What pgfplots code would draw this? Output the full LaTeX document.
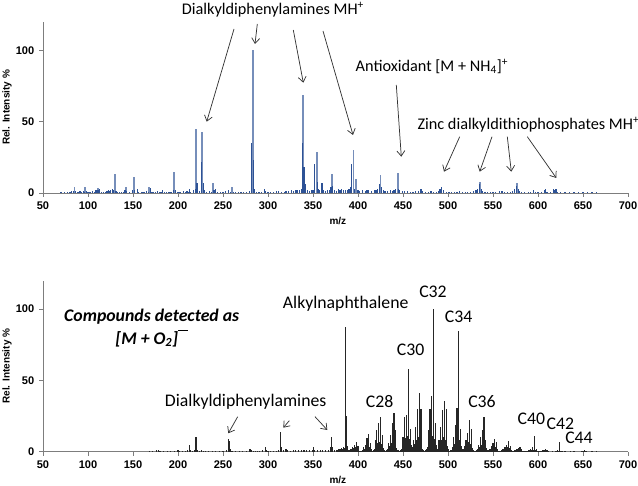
\documentclass[border=0pt]{standalone}
\usepackage{fontspec}
\setmainfont{Carlito}
\newfontfamily\arialf{Liberation Sans}
\usepackage{pgfplots}
\pgfplotsset{compat=1.18}
\usepackage{pgfplotstable}
\usetikzlibrary{arrows.meta}
\definecolor{specdark}{RGB}{45,82,150}
\definecolor{speclight}{RGB}{118,142,186}
\definecolor{axgray}{RGB}{125,125,125}

\pgfplotstableread{
mz int
85 4
97 4
111 3.5
130 13
142 4
151 11
168 4
196 15
220 45
227 43
239 7
260 4
283 100
339 69
354 29
371 13
395 30
398 10
425 12.6
444 14
536 8
577 7
}\toplight

\pgfplotstableread{
mz int
70 0.5
74 0.4
77 0.6
80 1
82 1.5
84 1.2
86 1.5
88 0.8
90 0.6
91 1.2
93 0.7
95 1.5
96 1
98 1.5
100 0.6
101 1
103 0.7
105 1.5
107 1
108 2
110 2
112 2
113 2.5
115 1
117 0.8
119 1
121 1.5
123 2
124 1.5
125 2
127 2.5
128 2
131 1.5
133 1
135 1
137 0.8
139 1
141 2
143 1.5
146 1
149 2
152 2
155 2.5
156 1
159 0.8
161 0.7
163 1
165 1.5
167 1
169 3.5
171 1
173 1
175 0.8
177 1.5
179 0.8
181 1
183 2
185 1
187 0.7
189 1
191 1
193 1
195 2
197 2
199 1
201 0.7
203 1
206 1.5
208 1
210 1.5
212 1
213 3
214 1
217 2
219 3
221 7
222 2
224 1.5
226 22
228 7
229 2
232 1
235 1.5
237 0.8
240 2
242 2.5
244 1
247 1
250 1
253 1.5
256 2
258 1
262 1
264 1
267 0.8
270 1
273 1
276 1
279 1.5
282 35
284 23
285 3
287 1
290 1
293 1
296 2.5
297 1.5
300 1
303 1
306 1
309 1.5
312 1.5
315 1
318 1
320 1.5
323 1.5
326 2
328 1.5
331 2
333 2
335 2
337 3
338 35
340 18
341 5
342 6
344 2
346 1.5
348 2
350 2
352 20
355 8
356 3
357 2
359 1.5
360 7
362 2
364 1.5
366 2
368 2
370 4
372 5
374 2
376 1.5
378 3
380 2
382 2.5
384 2
386 2
388 2
390 2.5
392 4
393 20
396 3
399 2
400 2
402 1.5
405 2
408 1.5
410 2
412 2
415 1.5
418 2
420 2
422 3
424 6
426 4
428 2
430 1.5
433 1.5
436 2
438 1.5
440 2
442 3
445 3
446 2
449 1.5
452 1.5
455 1.5
458 1
461 1
464 1.5
467 1.5
469 2
470 2.5
472 1.5
475 1
478 1
481 1.5
484 1
487 1
490 1.5
491 3
493 4
495 2
498 1
501 1
504 1
507 1
510 1
513 1.5
516 1
519 1
522 1
525 1
528 1.5
531 2
533 3
535 6
537 3
538 1.5
541 1
544 1
547 1
550 1
553 1
557 1.5
560 1.5
563 1
566 1
569 1
572 1.5
574 3
576 5
578 3
579 1.5
582 1
585 1
589 1
592 1
595 2
597 1
600 1
604 1
607 2
608 2.5
610 1
614 1
617 3
618 2
620 3
621 1
625 1
630 1
635 0.8
640 1
645 0.7
650 0.8
655 0.6
660 0.7
665 0.5
}\topdark

\pgfplotstableread{
mz int
168 0.5
172 0.4
176 1
178 1
180 0.8
184 0.5
188 0.4
192 0.5
196 0.6
200 1
202 0.8
205 0.6
208 0.7
211 1
213 5
214 1.5
216 0.8
218 1.5
220 10.3
221 2.5
222 1
224 0.8
226 1
228 0.6
231 0.5
234 0.6
238 0.5
242 0.7
246 0.6
250 0.8
254 1
256 9
257 7.5
258 2
260 0.8
264 0.6
268 0.5
272 0.7
276 0.8
279 1.5
280 2
282 1
284 0.8
286 0.7
288 0.6
291 0.8
294 1
297 3
298 1.5
300 0.8
303 0.6
306 0.7
309 0.8
312 1.5
314 13.6
315 3
317 1.5
320 2
322 1
325 0.8
328 1
331 1
334 1.2
337 1.5
340 1
343 1
346 1.2
349 1.5
351 3
352 1.5
355 1
358 1
361 1.2
364 1.5
367 1.5
369 3
371 10.3
372 3
374 1.5
376 1
377 1
378 2
379 0.8
380 2
381 1.4
382 2.5
383 2.1
384 3
385 2.5
386 87.6
387 25
388 4
389 1
390 0.5
391 0.9
392 2
393 1.7
394 3
395 2.5
396 5
397 3
398 7
399 2.4
400 4
401 1.2
402 0.6
403 0.4
404 0.6
405 1.2
406 3
407 2.2
408 5
409 3.4
410 9.5
411 4
412 12.5
413 3.2
414 6
415 1.6
416 0.8
417 1
418 2.1
419 8
420 3.9
421 15
422 6
423 20
424 7
425 24.5
426 5.6
427 12
428 2.8
429 1.4
430 0.8
431 0.8
432 1
433 2.1
434 6
435 3.9
436 12
437 6
438 20
439 7
440 27
441 5.6
442 15
443 2.8
444 1.4
445 1
446 0.8
447 1
448 1.6
449 3.3
450 10
451 6
452 24.5
453 9.4
454 25.7
455 11
456 57.7
457 8.8
458 16
459 4.4
460 2.2
461 3
462 8
463 5.5
464 17.5
465 8.5
466 30
467 10
468 41
469 8
470 30
471 4
472 2
473 1
474 0.8
475 1
476 1.6
477 3.3
478 15
479 6
480 29.7
481 9.4
482 39
483 11
484 100
485 8.8
486 20
487 4.4
488 2.2
489 3
490 8
491 5.5
492 17.5
493 8.5
494 29
495 10
496 35.7
497 8
498 29.7
499 4
500 2
501 1
502 0.8
503 1
504 1.5
505 3
506 10
507 5.5
508 18.7
509 8.5
510 30.8
511 10
512 85
513 8
514 15.6
515 4
516 2
517 2.1
518 4
519 3.9
520 8
521 6
522 12.8
523 7
524 22
525 5.6
526 16
527 2.8
528 1.4
529 0.8
530 0.6
531 0.8
532 0.9
533 1.8
534 5
535 3.3
536 10.5
537 5
538 15
539 6
540 24.5
541 4.8
542 8
543 2.4
544 1.2
545 1.2
546 2
547 2.2
548 4
549 3.4
550 6
551 4
552 8.7
553 3.2
554 7
555 1.6
556 0.8
557 0.5
558 0.4
559 0.5
560 1
561 2
562 2
563 3
564 3
565 5
566 3.5
567 7.5
568 2.8
569 4
570 1.4
571 0.7
572 0.3
573 0.6
574 1
575 1.1
576 2
577 1.7
578 2.5
579 2
580 3.5
581 1.6
582 2
583 0.8
584 0.4
585 0.3
586 0.2
587 0.3
588 0.3
589 0.5
590 1
591 0.8
592 2
593 1.3
594 3
595 1.5
596 11
597 1.2
598 2
599 0.6
600 0.3
602 0.3
603 0.5
604 0.8
605 1
606 1.5
607 1.2
608 2
609 1.5
610 1.5
611 0.6
612 0.3
616 0.2
620 0.3
621 0.5
622 1.5
623 0.7
624 6.8
625 0.6
626 0.5
627 0.3
630 0.2
636 0.3
640 0.2
648 0.2
650 0.5
651 0.8
652 1.5
653 0.5
654 0.2
660 0.2
665 0.2
}\bottomdata

\pgfplotsset{
  specaxis/.style={
    scale only axis,
    width=438.75pt, height=128.25pt,
    anchor=south west,
    xmin=50, xmax=700, ymin=0, ymax=120,
    xtick={50,100,...,700}, ytick={0,50,100},
    axis x line=bottom, axis y line=left,
    axis line style={-, axgray, line width=0.6pt},
    tick style={axgray, line width=0.5pt},
    tick align=outside, major tick length=3pt,
    /pgf/number format/assume math mode=true,
    ticklabel style={font=\arialf\bfseries\fontsize{8.3}{9}\selectfont, text=black},
    xlabel={m/z}, ylabel={Rel. Intensity \%},
    label style={font=\arialf\bfseries\fontsize{7.5}{9}\selectfont},
    xlabel style={at={(axis description cs:0.504,0)}, anchor=center, yshift=-21pt},
    ylabel style={at={(axis description cs:-0.0615,0.5)}, anchor=center, rotate=0},
    clip=false,
  }
}

\begin{document}
\begin{tikzpicture}
\useasboundingbox (0,0) rectangle (478.5pt,363.75pt);

\begin{axis}[specaxis, at={(32.25pt,219pt)}]
  \addplot[ycomb, mark=none, color=speclight, line width=1.4pt] table[x=mz,y=int] {\toplight};
  \addplot[ycomb, mark=none, color=specdark, line width=0.9pt] table[x=mz,y=int] {\topdark};
\end{axis}

\begin{axis}[specaxis, at={(32.25pt,25pt)}]
  \addplot[ycomb, mark=none, color=black!85, line width=0.8pt] table[x=mz,y=int] {\bottomdata};
\end{axis}

\begin{scope}[x=0.75pt, y=-0.75pt, yshift=363.75pt,
  arr/.style={-{Straight Barb[length=4pt,width=6pt]}, line width=0.55pt, black!80}]
  % top annotations
  \node[font=\fontsize{12.2}{14}\selectfont] at (273,10) {Dialkyldiphenylamines MH\textsuperscript{+}};
  \draw[arr] (234,29) -- (206.7,121.7);
  \draw[arr] (257.3,24) -- (255,44);
  \draw[arr] (293.3,30) -- (303.3,82.7);
  \draw[arr] (323,31) -- (353,135);
  \node[font=\fontsize{12.2}{14}\selectfont] at (432,66.7) {Antioxidant [M + NH\textsubscript{4}]\textsuperscript{+}};
  \draw[arr] (396.3,85) -- (401.3,156.7);
  \node[font=\fontsize{12.2}{14}\selectfont] at (528.5,125) {Zinc dialkyldithiophosphates MH\textsuperscript{+}};
  \draw[arr] (459.7,136.7) -- (444,171.7);
  \draw[arr] (492,136.7) -- (479.7,171.7);
  \draw[arr] (507.3,136.7) -- (511.3,171.7);
  \draw[arr] (527.3,136.7) -- (556.3,178);
  % bottom annotations
  \node[font=\fontsize{13.3}{16}\selectfont\bfseries\itshape] at (151.7,316.7) {Compounds detected as};
  \node[font=\fontsize{13.3}{16}\selectfont\bfseries\itshape] at (151.7,338.3) {[M + O\textsubscript{2}]\raisebox{0.72em}{\rule{0.55em}{0.09em}}};
  \node[font=\fontsize{13.3}{16}\selectfont] at (345.7,303.3) {Alkylnaphthalene};
  \node[font=\fontsize{13.3}{16}\selectfont] at (245.7,401.7) {Dialkyldiphenylamines};
  \draw[arr] (237.7,416.7) -- (228.3,433.3);
  \draw[arr] (289.3,420.7) -- (283.3,427.7);
  \draw[arr] (315,416.7) -- (327.3,430);
  \node[font=\fontsize{13.3}{16}\selectfont] at (433,291.7) {C32};
  \node[font=\fontsize{13.3}{16}\selectfont] at (458.7,316.7) {C34};
  \node[font=\fontsize{13.3}{16}\selectfont] at (410.7,350) {C30};
  \node[font=\fontsize{13.3}{16}\selectfont] at (379.7,401.7) {C28};
  \node[font=\fontsize{13.3}{16}\selectfont] at (482,401.7) {C36};
  \node[font=\fontsize{13.3}{16}\selectfont] at (531.3,419) {C40};
  \node[font=\fontsize{13.3}{16}\selectfont] at (560.3,424) {C42};
  \node[font=\fontsize{13.3}{16}\selectfont] at (579,437.7) {C44};
\end{scope}
\end{tikzpicture}
\end{document}
